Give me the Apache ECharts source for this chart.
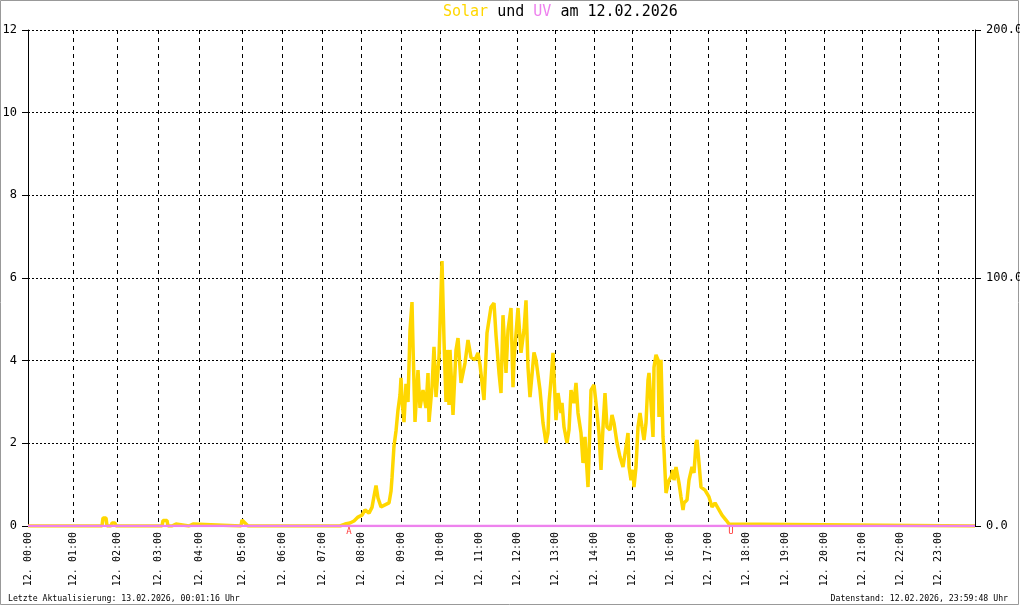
<!DOCTYPE html>
<html>
<head>
<meta charset="utf-8">
<script src="https://cdn.jsdelivr.net/npm/echarts@6/dist/echarts.min.js"></script>
<style>
html,body{margin:0;padding:0;background:#fff;overflow:hidden;}
#chart{width:1020px;height:606px;}
</style>
</head>
<body>
<div id="chart"></div>
<script>
// Sample index (on the x axis) at which each hour starts; the log has 948 samples.
const sampleCount = 948;
const hourStarts = [0,45,89,130,171,214,254,294,333,373,412,451,489,527,566,604,642,680,718,757,796,834,872,910];
const hourLabels = ['12. 00:00','12. 01:00','12. 02:00','12. 03:00','12. 04:00','12. 05:00','12. 06:00','12. 07:00',
  '12. 08:00','12. 09:00','12. 10:00','12. 11:00','12. 12:00','12. 13:00','12. 14:00','12. 15:00',
  '12. 16:00','12. 17:00','12. 18:00','12. 19:00','12. 20:00','12. 21:00','12. 22:00','12. 23:00'];
const uvTicks = [0,2,4,6,8,10,12];
const solarTicks = [0,100,200];

// Solar (W/m², right axis): [sample index, value]
const solarData = [
  [0,0],[74,0],[75,3.2],[78,3.2],[79,0],[83,0],[84,1.2],[87,1.2],[88,0],
  [134,0],[135,2.2],[139,2.2],[140,0],[144,0],[145,0.8],[148,0.8],[149,0],
  [161,0],[162,0.8],[165,0.8],[166,0],[213,0],[214,2.4],[216,2.4],[217,1.2],[219,1.2],[220,0],
  [312,0],[317,0.8],[322,1.2],[326,2.0],[330,3.6],[334,4.4],[337,6.5],[341,5.2],[344,7.5],
  [346,12],[348,16.3],[350,11.3],[353,7.7],[357,8.5],[361,9.3],[363,14],[364,19.4],[366,32.3],
  [368,38.3],[370,46.8],[372,52.8],[373,59.7],[374,50.8],[376,41.9],[378,57.3],[380,50],
  [382,79],[384,90.3],[385,73],[387,42],[390,62.9],[392,47.6],[395,54.8],[398,47.6],[400,61.7],
  [401,42],[404,56],[406,72.2],[408,52],[411,68.1],[414,106.8],[416,75],[418,50],[419,71],
  [421,48.8],[422,71],[425,44.8],[428,71],[430,75.8],[433,57.7],[437,65.7],[440,75],[443,68],
  [447,67],[450,69.8],[452,65],[456,50.8],[459,77.8],[463,88.3],[466,89.9],[468,77],[471,61.7],
  [473,53.6],[475,85],[478,61.7],[480,79],[483,87.9],[485,56],[486,67],[490,87.9],[493,69.8],
  [496,79],[498,91],[500,64],[502,52],[506,70],[508,67],[512,54.8],[515,41.5],[518,33.5],
  [520,37.5],[521,49.6],[523,58.9],[525,69.8],[528,42.7],[530,53.6],[533,45.6],[534,49.6],
  [536,39.9],[539,33.5],[541,38.7],[543,54.8],[546,49.6],[548,57.7],[550,45.6],[553,37.5],
  [555,25.4],[557,35.9],[560,15.7],[561,27.8],[563,54.8],[566,56.9],[568,49.6],[571,37.5],
  [573,22.6],[575,39.9],[577,53.6],[579,39.9],[582,38.7],[584,44.8],[586,41.5],[589,33.5],
  [592,27.8],[595,23.8],[598,31.9],[600,37.5],[601,23.8],[603,18.5],[605,22.6],[606,15.7],
  [608,23.8],[610,39.9],[612,45.6],[614,39.9],[616,34.7],[618,41.5],[620,58.9],[621,61.7],
  [623,49.6],[625,35.9],[626,64],[628,69],[630,67],[631,44],[633,67],[635,35.9],[636,30.6],
  [638,13.3],[641,18.5],[643,19.8],[645,22.6],[646,18.5],[648,23.8],[651,17.3],[653,11.7],
  [655,6.5],[656,9.3],[659,10.5],[661,18.5],[664,23.8],[666,21.4],[668,33.5],[669,34.7],
  [671,25.4],[673,15.7],[677,14.5],[681,11.7],[684,7.7],[687,9.3],[691,6.5],[694,4.4],
  [698,2.4],[701,0.8],[703,0],[947,0]
];
// UV index (left axis): zero all day
const uvData = [[0,0],[333,0],[703,0],[947,0]];
// Sunrise (A) / sunset (U) markers
const sunMarks = [{idx:321, text:'A'},{idx:703, text:'U'}];

const titleParts = {solar:'Solar', mid:' und ', uv:'UV', rest:' am 12.02.2026'};
const footLeft = 'Letzte Aktualisierung: 13.02.2026, 00:01:16 Uhr';
const footRight = 'Datenstand: 12.02.2026, 23:59:48 Uhr';

const hourSet = new Set(hourStarts);
const categories = [];
for (let i = 0; i < sampleCount; i++) {
  const h = hourStarts.indexOf(i);
  categories.push(h >= 0 ? hourLabels[h] : ('#' + i));
}

const mono = '"DejaVu Sans Mono", "Liberation Mono", monospace';
const chart = echarts.init(document.getElementById('chart'), null, {renderer:'canvas'});
chart.setOption({
  backgroundColor:'#fff',
  animation:false,
  title:{
    text:'{s|' + titleParts.solar + '}' + titleParts.mid + '{u|' + titleParts.uv + '}' + titleParts.rest,
    left:443, top:5, padding:0,
    textStyle:{fontFamily:mono, fontSize:15, fontWeight:'normal', color:'#000',
      rich:{s:{color:'#FFD700', fontFamily:mono, fontSize:15}, u:{color:'#EE82EE', fontFamily:mono, fontSize:15}}}
  },
  grid:{left:28, right:45, top:30, bottom:80, containLabel:false, outerBoundsMode:'none'},
  xAxis:{
    type:'category', data:categories, boundaryGap:false,
    axisLine:{show:true, lineStyle:{color:'#000', width:1}},
    axisTick:{show:false},
    axisLabel:{
      interval:(i)=>hourSet.has(i), rotate:90, margin:6,
      fontFamily:mono, fontSize:10, color:'#000', padding:[0,0,0,0]
    },
    splitLine:{show:true, interval:(i)=>hourSet.has(i) && i>0,
      lineStyle:{color:'#000', type:[4,4], width:1}}
  },
  yAxis:[
    {type:'value', min:0, max:12, interval:2, position:'left',
     axisLine:{show:true, lineStyle:{color:'#000'}},
     axisTick:{show:true, inside:false, length:6, lineStyle:{color:'#000'}},
     axisLabel:{margin:11, fontFamily:mono, fontSize:12, color:'#000',
       formatter:(v)=> uvTicks.includes(v) ? String(v) : ''},
     splitLine:{show:true, lineStyle:{color:'#000', type:[2,2], width:1}}},
    {type:'value', min:0, max:200, interval:100, position:'right',
     axisLine:{show:true, lineStyle:{color:'#000'}},
     axisTick:{show:true, inside:false, length:6, lineStyle:{color:'#000'}},
     axisLabel:{margin:11, fontFamily:mono, fontSize:12, color:'#000',
       formatter:(v)=> solarTicks.includes(v) ? v.toFixed(1) : ''},
     splitLine:{show:false}}
  ],
  series:[
    {name:'Solar', type:'line', yAxisIndex:1, data:solarData, showSymbol:false, symbol:'none',
     lineStyle:{color:'#FFD700', width:3.5}, z:2},
    {name:'UV', type:'line', yAxisIndex:0, data:uvData, showSymbol:false, symbol:'none',
     lineStyle:{color:'#EE82EE', width:2.5}, z:3},
    {name:'Sonne', type:'scatter', yAxisIndex:0, symbolSize:0.1,
     itemStyle:{color:'rgba(0,0,0,0)'}, z:4,
     data:sunMarks.map(m=>({value:[m.idx,0], label:{formatter:m.text}})),
     label:{show:true, position:'bottom', distance:1, color:'#FF0000', fontFamily:mono, fontSize:9}}
  ],
  graphic:[
    {type:'rect', shape:{x:0.5, y:0.5, width:1018, height:604}, style:{fill:null, stroke:'#999', lineWidth:1}, silent:true},
    {type:'text', left:8, top:595, style:{text:footLeft, font:'8.2px ' + mono, fill:'#000'}},
    {type:'text', right:12, top:595, style:{text:footRight, font:'8.2px ' + mono, fill:'#000'}}
  ]
});
</script>
</body>
</html>
